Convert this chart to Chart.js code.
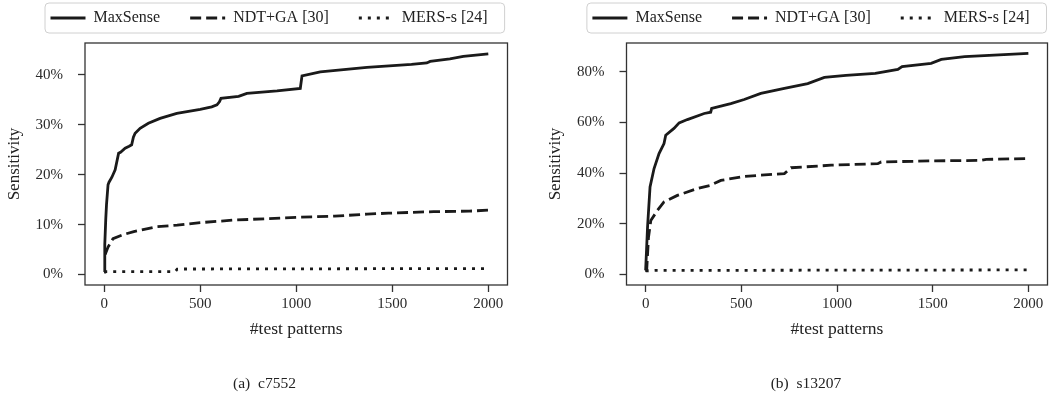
<!DOCTYPE html>
<html>
<head>
<meta charset="utf-8">
<script src="https://cdn.jsdelivr.net/npm/chart.js@4/dist/chart.umd.min.js"></script>
<style>
  body { margin: 0; background: #fff; }
  #wrap { position: relative; width: 1056px; height: 399px; }
  canvas { position: absolute; top: 0; }
  .cap { position: absolute; top: 374px; line-height: 20px; font: 15.5px 'Liberation Serif', serif; color: #222; transform: translateX(-50%); white-space: pre; }
</style>
</head>
<body>
<div id="wrap">
  <canvas id="c7552" width="528" height="399" style="left:0"></canvas>
  <canvas id="s13207" width="528" height="399" style="left:528px"></canvas>
  <div class="cap" style="left:264.5px">(a)  c7552</div>
  <div class="cap" style="left:806px">(b)  s13207</div>
</div>
<script>
const seriesNames = ['MaxSense', 'NDT+GA [30]', 'MERS-s [24]']
const xTicks = [0, 500, 1000, 1500, 2000]

// (a) c7552, sensitivity in %
const maxSenseXa = [0, 3, 8, 12, 20, 25, 40, 57, 75, 85, 109, 130, 143, 152, 161, 187, 230, 291, 378, 500, 560, 587, 600, 608, 700, 743, 900, 1021, 1030, 1125, 1368, 1600, 1680, 1697, 1800, 1870, 2000]
const maxSenseYa = [0.5, 6, 11, 14, 18, 18.5, 19.5, 21, 24.3, 24.5, 25.3, 25.7, 26, 27.5, 28.3, 29.3, 30.3, 31.3, 32.3, 33.1, 33.6, 34, 34.6, 35.3, 35.7, 36.3, 36.8, 37.3, 39.8, 40.6, 41.5, 42.1, 42.4, 42.7, 43.2, 43.7, 44.2]
const ndtXa = [5, 10, 20, 46, 100, 154, 276, 380, 500, 673, 850, 1021, 1200, 1368, 1480, 1715, 1900, 2000]
const ndtYa = [4, 4.5, 5.5, 7.2, 8, 8.6, 9.6, 9.9, 10.4, 10.9, 11.2, 11.5, 11.7, 12.1, 12.3, 12.6, 12.7, 12.9]
const mersXa = [0, 370, 380, 2000]
const mersYa = [0.6, 0.6, 1.1, 1.2]
const yTicksA = [0, 10, 20, 30, 40]

// (b) s13207
const maxSenseXb = [0, 5, 10, 23, 44, 70, 96, 105, 148, 175, 218, 306, 340, 345, 445, 515, 602, 725, 847, 934, 1047, 1200, 1318, 1340, 1492, 1545, 1667, 2000]
const maxSenseYb = [1.6, 10, 18.7, 34.5, 41.8, 47.7, 51.6, 54.9, 57.6, 59.8, 61.1, 63.5, 64, 65.5, 67.4, 69, 71.4, 73.4, 75.3, 77.7, 78.5, 79.3, 80.9, 82, 83.3, 84.8, 85.9, 87.2]
const ndtXb = [5, 15, 27, 62, 96, 166, 271, 340, 393, 515, 725, 760, 969, 1213, 1231, 1500, 1755, 1780, 2000]
const ndtYb = [1, 14.7, 21.3, 25.3, 28.6, 31.2, 33.9, 35.2, 37.1, 38.7, 39.8, 42.1, 43.1, 43.7, 44.4, 44.8, 45.0, 45.4, 45.7]
const mersXb = [0, 50, 2000]
const mersYb = [1.4, 1.6, 1.8]
const yTicksB = [0, 20, 40, 60, 80]

Chart.defaults.font.family = "'Liberation Serif', 'Times New Roman', serif"
Chart.defaults.color = '#222'

const ink = '#1a1a1a'
const lineW = 2.8
const dashes = [[], [11, 5], [3, 6]]

// plot frame + matplotlib-like legend box
const framePlugin = {
    id: 'frame',
    afterLayout(chart, args, opts) {
        const lg = chart.legend
        const pad = lg.options.labels.padding
        lg.left = opts.legendX - pad
        lg.right = chart.width + 200
        lg.top = 10 - pad
        lg.bottom = 42
    },
    afterDatasetsDraw(chart) {
        const { ctx, chartArea: a } = chart
        ctx.save()
        ctx.strokeStyle = '#333'
        ctx.lineWidth = 1.3
        ctx.strokeRect(a.left, a.top, a.right - a.left, a.bottom - a.top)
        ctx.restore()
    },
    afterDraw(chart) {
        const boxes = chart.legend.legendHitBoxes
        if (!boxes || !boxes.length) return
        const first = boxes[0], last = boxes[boxes.length - 1]
        const x0 = first.left - 5.5, x1 = last.left + last.width + 17
        const y0 = first.top - 7, y1 = first.top + first.height + 7
        const ctx = chart.ctx
        ctx.save()
        ctx.strokeStyle = '#d0d0d0'
        ctx.lineWidth = 1
        ctx.beginPath()
        ctx.roundRect(x0, y0, x1 - x0, y1 - y0, 4)
        ctx.stroke()
        ctx.restore()
    }
}

function makeChart(id, xs, ys, yTicks, yMin, yMax, opt) {
    const ctx = document.getElementById(id).getContext('2d')
    return new Chart(ctx, {
        type: 'line',
        data: {
            datasets: seriesNames.map((name, i) => ({
                label: name,
                data: xs[i].map((x, j) => ({ x: x, y: ys[i][j] })),
                borderColor: ink,
                backgroundColor: ink,
                borderWidth: lineW,
                borderDash: dashes[i],
                pointRadius: 0,
                tension: 0,
                fill: false
            }))
        },
        options: {
            responsive: false,
            animation: false,
            layout: { padding: { left: 0, right: opt.padRight, top: 3, bottom: 59 } },
            plugins: {
                tooltip: { enabled: false },
                frame: { legendX: opt.legendX },
                legend: {
                    align: 'start',
                    maxHeight: 40,
                    labels: {
                        usePointStyle: true,
                        pointStyle: 'line',
                        pointStyleWidth: 35,
                        padding: 30,
                        color: '#222',
                        font: { size: 16 },
                        generateLabels: chart => Chart.defaults.plugins.legend.labels.generateLabels(chart)
                            .map((item, i) => ({ ...item, lineDash: dashes[i], lineWidth: lineW, strokeStyle: ink }))
                    }
                }
            },
            scales: {
                x: {
                    type: 'linear',
                    min: -100,
                    max: 2100,
                    afterBuildTicks: s => { s.ticks = xTicks.map(v => ({ value: v })) },
                    afterFit: s => { s.height = 55 },
                    ticks: { padding: 3, font: { size: 15 }, color: '#2a2a2a', callback: v => String(v) },
                    grid: { drawOnChartArea: false, tickLength: 7, tickWidth: 1.3, tickColor: '#333' },
                    border: { display: false },
                    title: { display: true, text: '#test patterns', font: { size: 17.5 }, color: '#222', padding: { top: 0, bottom: 0 } }
                },
                y: {
                    min: yMin,
                    max: yMax,
                    afterBuildTicks: s => { s.ticks = yTicks.map(v => ({ value: v })) },
                    afterFit: s => { s.width = opt.yWidth },
                    ticks: { padding: 15, font: { size: 15 }, color: '#2a2a2a', callback: v => v + '%' },
                    grid: { drawOnChartArea: false, tickLength: 7, tickWidth: 1.3, tickColor: '#333' },
                    border: { display: false },
                    title: { display: true, text: 'Sensitivity', font: { size: 17 }, color: '#222', padding: { top: opt.yTitlePad, bottom: 0 } }
                }
            }
        },
        plugins: [framePlugin]
    })
}

makeChart('c7552',
    [maxSenseXa, ndtXa, mersXa], [maxSenseYa, ndtYa, mersYa],
    yTicksA, -2.1, 46.4,
    { padRight: 20.5, yWidth: 85, yTitlePad: 4.8, legendX: 50.5 })

makeChart('s13207',
    [maxSenseXb, ndtXb, mersXb], [maxSenseYb, ndtYb, mersYb],
    yTicksB, -4.15, 91.3,
    { padRight: 8.5, yWidth: 98.5, yTitlePad: 17.1, legendX: 64.4 })
</script>
</body>
</html>
